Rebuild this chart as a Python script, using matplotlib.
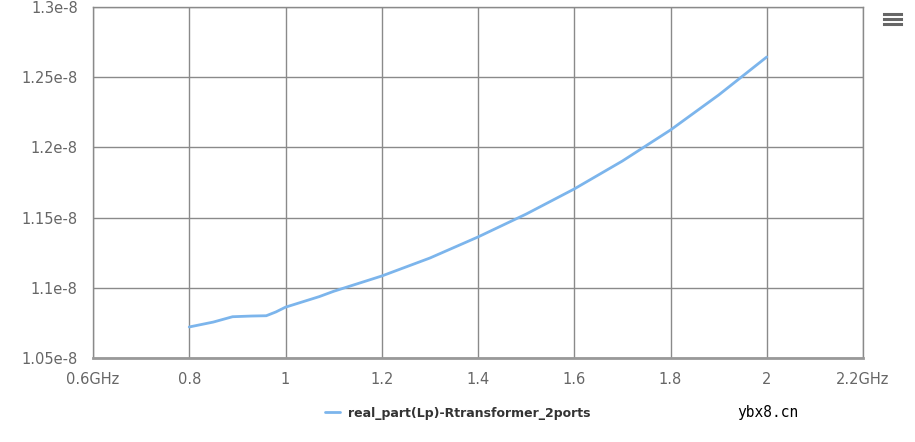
import matplotlib
matplotlib.use("Agg")
import matplotlib.pyplot as plt
import numpy as np

# Values
freq_ghz = [0.8, 0.85, 0.89, 0.93, 0.96, 0.98, 1.0, 1.07, 1.1, 1.2, 1.3, 1.4, 1.5,
            1.6, 1.7, 1.8, 1.9, 2.0]
lp_real = [1.0721, 1.0756, 1.0794, 1.0799, 1.0801, 1.0828, 1.0862, 1.0937, 1.0975,
           1.1084, 1.1212, 1.1362, 1.1525, 1.1704, 1.1903, 1.2124, 1.2373, 1.2644]
lp_real = [v * 1e-8 for v in lp_real]

x_ticks = [0.6, 0.8, 1.0, 1.2, 1.4, 1.6, 1.8, 2.0, 2.2]
x_labels = ['0.6GHz', '0.8', '1', '1.2', '1.4', '1.6', '1.8', '2', '2.2GHz']
y_ticks = [1.05e-8, 1.1e-8, 1.15e-8, 1.2e-8, 1.25e-8, 1.3e-8]
y_labels = ['1.05e-8', '1.1e-8', '1.15e-8', '1.2e-8', '1.25e-8', '1.3e-8']

SERIES_NAME = 'real_part(Lp)-Rtransformer_2ports'
LINE_COLOR = '#7cb5ec'
GRID_COLOR = '#8a8a8a'
TICK_COLOR = '#666666'

plt.rcParams['font.family'] = ['DejaVu Sans']

fig = plt.figure(figsize=(9.15, 4.42), dpi=100)
ax = fig.add_axes([93 / 915, (442 - 358) / 442, 770 / 915, 351 / 442])

line, = ax.plot(freq_ghz, lp_real, color=LINE_COLOR, linewidth=2,
                solid_capstyle='round', solid_joinstyle='round')

ax.set_xlim(0.6, 2.2)
ax.set_ylim(1.05e-8, 1.3e-8)
ax.set_xticks(x_ticks)
ax.set_xticklabels(x_labels)
ax.set_yticks(y_ticks)
ax.set_yticklabels(y_labels)
ax.tick_params(axis='both', length=0, labelsize=10.5, labelcolor=TICK_COLOR)
ax.tick_params(axis='y', pad=11)
ax.tick_params(axis='x', pad=10)

ax.grid(True, color=GRID_COLOR, linewidth=1)
ax.set_axisbelow(True)
for side in ['top', 'right', 'left']:
    ax.spines[side].set_color(GRID_COLOR)
    ax.spines[side].set_linewidth(1)
ax.spines['bottom'].set_color('#999999')
ax.spines['bottom'].set_linewidth(2)

leg = fig.legend([line], [SERIES_NAME], loc='center', bbox_to_anchor=(458 / 915, 1 - 413 / 442),
                 frameon=False, handlelength=1.2, fontsize=9, handletextpad=0.6)
for t in leg.get_texts():
    t.set_color('#333333')
    t.set_fontweight('bold')

# menu icon
for yy in [14, 19, 24]:
    fig.add_artist(plt.Line2D([884 / 915, 901 / 915], [1 - yy / 442] * 2,
                              color='#666666', linewidth=2.2))

fig.text(768 / 915, 1 - 412 / 442, 'ybx8.cn', ha='center', va='center',
         fontsize=10.5, color='black', family='DejaVu Sans Mono')

fig.savefig('out.png', dpi=100)
